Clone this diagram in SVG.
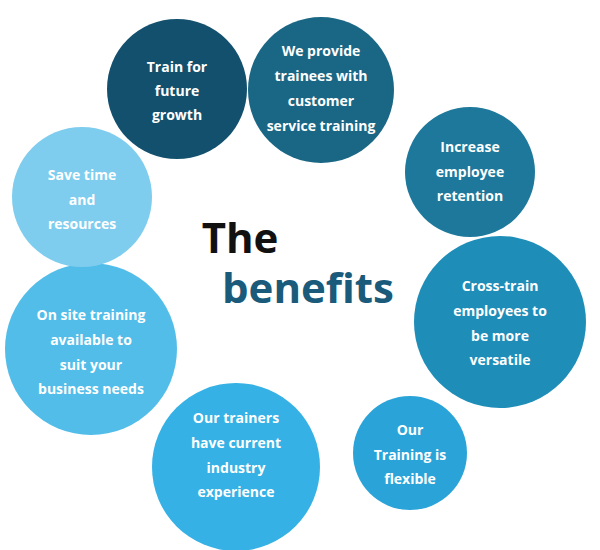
<svg xmlns="http://www.w3.org/2000/svg" width="600" height="550" viewBox="0 0 600 550">
<style>
.t{font-family:"Open Sans","Liberation Sans",sans-serif;font-weight:bold;font-size:14px;fill:#fff;text-anchor:middle}
.h{font-family:"Open Sans","Liberation Sans",sans-serif;font-weight:bold;font-size:42px}
</style>
<rect width="600" height="550" fill="#fff"/>
<g id="n1"><circle cx="177" cy="89" r="70" fill="#13506e"/><text class="t" x="177" y="72">Train for</text><text class="t" x="177" y="96">future</text><text class="t" x="177" y="120">growth</text></g>
<g id="n2"><circle cx="321" cy="90" r="73" fill="#1a6785"/><text class="t" x="321" y="56">We provide</text><text class="t" x="321" y="81">trainees  with</text><text class="t" x="321" y="106">customer</text><text class="t" x="321" y="131">service training</text></g>
<g id="n3"><circle cx="470" cy="172" r="65" fill="#1d789b"/><text class="t" x="470" y="152">Increase</text><text class="t" x="470" y="177">employee</text><text class="t" x="470" y="201">retention</text></g>
<g id="n4"><circle cx="500" cy="322" r="86" fill="#1e8db8"/><text class="t" x="500" y="291">Cross-train</text><text class="t" x="500" y="316">employees to</text><text class="t" x="500" y="341">be more</text><text class="t" x="500" y="365">versatile</text></g>
<g id="n5"><circle cx="410" cy="453" r="57" fill="#2aa4d8"/><text class="t" x="410" y="435">Our</text><text class="t" x="410" y="460">Training is</text><text class="t" x="410" y="484">flexible</text></g>
<g id="n6"><circle cx="236" cy="467" r="84" fill="#35b1e5"/><text class="t" x="236" y="423">Our  trainers</text><text class="t" x="236" y="448">have current</text><text class="t" x="236" y="473">industry</text><text class="t" x="236" y="497">experience</text></g>
<g id="n7"><circle cx="91" cy="349" r="86" fill="#52bde9"/><text class="t" x="91" y="320">On site training</text><text class="t" x="91" y="345">available to</text><text class="t" x="91" y="370">suit your</text><text class="t" x="91" y="394">business needs</text></g>
<g id="n8"><circle cx="82" cy="197" r="70" fill="#7fcdee"/><text class="t" x="82" y="180">Save time</text><text class="t" x="82" y="205">and</text><text class="t" x="82" y="229">resources</text></g>
<g id="title"><text class="h" x="240" y="253" text-anchor="middle" fill="#111">The</text><text class="h" x="308" y="303" text-anchor="middle" fill="#1a5a7a">benefits</text></g>
</svg>
